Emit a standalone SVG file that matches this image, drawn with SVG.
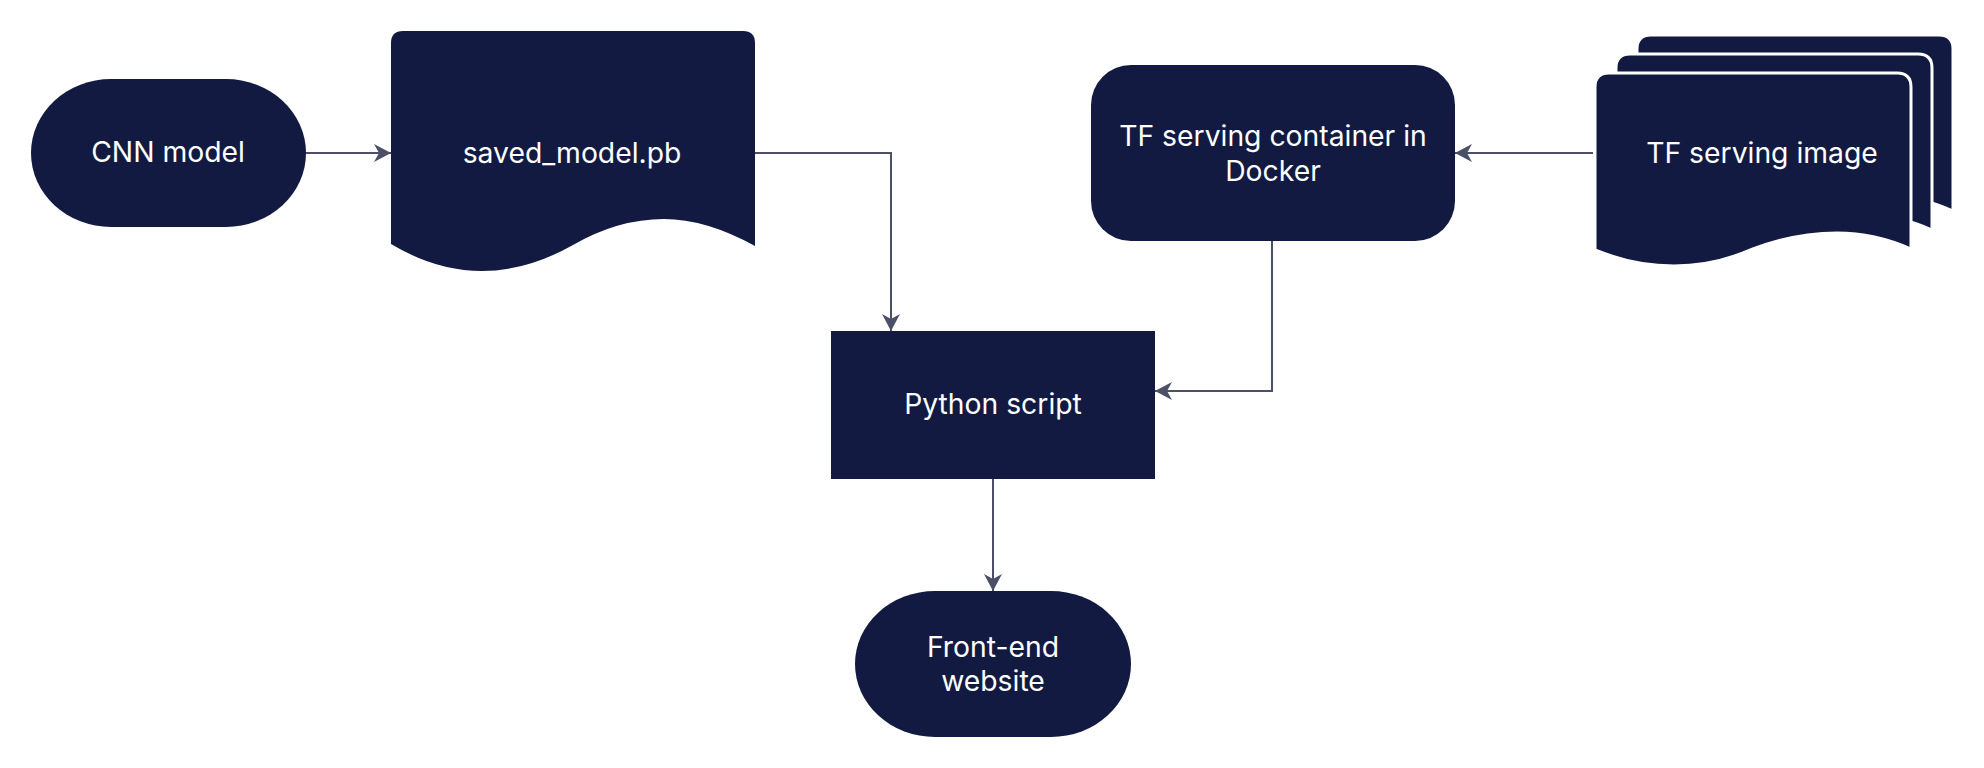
<svg xmlns="http://www.w3.org/2000/svg" width="1984" height="768" viewBox="0 0 1984 768">
<style>
.node{fill:#121a41}
.doc{fill:#121a41;stroke:#ffffff;stroke-width:3}
.lbl{fill:#ffffff;font-family:Inter,"Liberation Sans",sans-serif;font-size:28.3px;text-anchor:middle}
.edge{fill:none;stroke:#4b5068;stroke-width:2;marker-end:url(#arr)}
</style>
<defs>
<marker id="arr" markerUnits="userSpaceOnUse" markerWidth="18" markerHeight="20" viewBox="0 0 18 20" refX="17" refY="10" orient="auto">
<path d="M17,10 L0,1 L5,10 L0,19 Z" fill="#4b5068"/>
</marker>
</defs>
<rect width="1984" height="768" fill="#ffffff"/>
<g id="connectors">
<path class="edge" d="M306,153 L391,153"/>
<path class="edge" d="M755,153 L891,153 L891,331"/>
<path class="edge" d="M1593,153 L1455,153"/>
<path class="edge" d="M1272,241 L1272,391 L1155,391"/>
<path class="edge" d="M993,479 L993,591"/>
</g>
<g id="cnn-model">
<rect class="node" x="31" y="79" width="275" height="148" rx="80" ry="74"/>
<text class="lbl" x="168" y="162">CNN model</text>
</g>
<g id="saved-model">
<path class="node" d="M391,43 Q391,31 403,31 L743,31 Q755,31 755,43 L755,246 Q706,219 664,219 Q618,219 573,245 Q527,271 482,271 Q436,271 391,244 Z"/>
<text class="lbl" x="572" y="163">saved_model.pb</text>
</g>
<g id="tf-container">
<rect class="node" x="1091" y="65" width="364" height="176" rx="40" ry="40"/>
<text class="lbl" x="1273" y="146">TF serving container in</text>
<text class="lbl" x="1273" y="181">Docker</text>
</g>
<g id="tf-image">
<path class="doc" d="M1637,49 Q1637,35 1651,35 L1939,35 Q1953,35 1953,49 L1953,211 Q1917,195 1879,195 Q1837,195 1795,211 Q1756,228 1716,228 Q1676,228 1637,212 Z"/>
<path class="doc" d="M1616,68 Q1616,54 1630,54 L1918,54 Q1932,54 1932,68 L1932,230 Q1896,214 1858,214 Q1816,214 1774,230 Q1735,247 1695,247 Q1655,247 1616,231 Z"/>
<path class="doc" d="M1595,87 Q1595,73 1609,73 L1897,73 Q1911,73 1911,87 L1911,249 Q1875,233 1837,233 Q1795,233 1753,249 Q1714,266 1674,266 Q1634,266 1595,250 Z"/>
<text class="lbl" x="1762" y="163">TF serving image</text>
</g>
<g id="python-script">
<rect class="node" x="831" y="331" width="324" height="148"/>
<text class="lbl" x="993" y="414">Python script</text>
</g>
<g id="front-end">
<rect class="node" x="855" y="591" width="276" height="146" rx="80" ry="73"/>
<text class="lbl" x="993" y="657">Front-end</text>
<text class="lbl" x="993" y="691">website</text>
</g>
</svg>
